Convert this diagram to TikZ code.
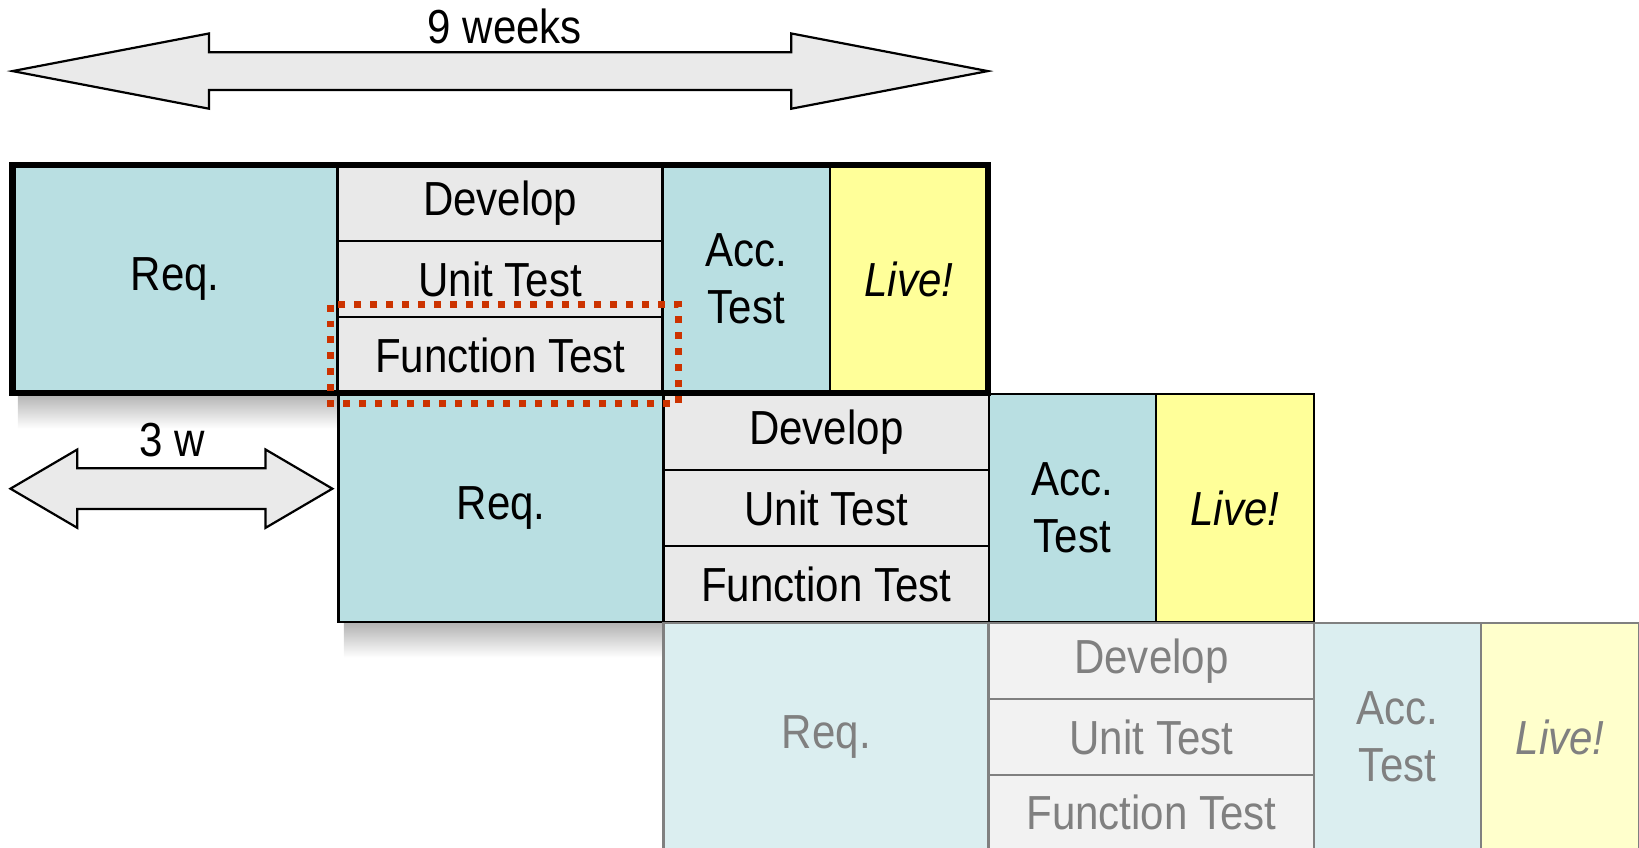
\documentclass[tikz,border=0pt]{standalone}
\usepackage{fontspec}
\setmainfont{Liberation Sans}[FakeStretch=0.88]
\usepackage{tikz}
\usetikzlibrary{positioning,calc}

\definecolor{reqfill}{HTML}{B9DFE2}
\definecolor{devfill}{HTML}{E9E9E9}
\definecolor{livefill}{HTML}{FFFF99}
\definecolor{reqfade}{HTML}{DBEEF0}
\definecolor{devfade}{HTML}{F2F2F2}
\definecolor{livefade}{HTML}{FFFFCC}
\definecolor{fadetext}{HTML}{808080}
\definecolor{markred}{HTML}{CC3300}
\definecolor{spanfill}{HTML}{EAEAEA}

\begin{document}
\begin{tikzpicture}[x=0.01cm,y=-0.01cm]
\tikzstyle{cell}=[inner sep=0pt,outer sep=0pt,line width=0.7pt,align=center,font=\fontsize{13pt}{15.6pt}\selectfont]
\tikzstyle{spanarrow}=[draw=black,line width=0.6pt,fill=spanfill,line join=miter]
\tikzstyle{spanlabel}=[font=\fontsize{13pt}{15.6pt}\selectfont,inner sep=0pt]
\tikzstyle{reddot}=[draw=markred,line width=1.9pt,dash pattern=on 1.9pt off 2.45pt]
\tikzstyle{shadow}=[top color=black!30,bottom color=white]

%% Macro for one sprint row
% #1=name, #2=x, #3=y, #4=req fill, #5=dev fill, #6=live fill, #7=text/line color
\newcommand{\Sprint}[7]{
    % Requirements
    \node[cell,fill=#4,draw=#7,text=#7,minimum width=3.11cm,minimum height=2.18cm] (#1-req) at (#2+155.5,#3+109) {Req.};
    % Develop / tests
    \node[cell,fill=#5,draw=#7,text=#7,minimum width=3.11cm,minimum height=0.7267cm] (#1-dev1) at (#2+466.5,#3+36.33) {Develop};
    \node[cell,fill=#5,draw=#7,text=#7,minimum width=3.11cm,minimum height=0.7267cm] (#1-dev2) at (#2+466.5,#3+109) {Unit Test};
    \node[cell,fill=#5,draw=#7,text=#7,minimum width=3.11cm,minimum height=0.7267cm] (#1-dev3) at (#2+466.5,#3+181.67) {Function Test};
    % Acceptance
    \node[cell,fill=#4,draw=#7,text=#7,minimum width=1.60cm,minimum height=2.18cm] (#1-acc) at (#2+702,#3+109) {Acc.\\Test};
    % Live
    \node[cell,fill=#6,draw=#7,text=#7,minimum width=1.51cm,minimum height=2.18cm] (#1-live) at (#2+857.5,#3+109) {\itshape Live!};
}

% #1=left tip, #2=right tip, #3=mid y, #4=shaft half, #5=head half, #6=head length
\newcommand{\Span}[6]{
    \draw[spanarrow] (#1,#3) -- (#1+#6,#3-#5) -- (#1+#6,#3-#4) -- (#2-#6,#3-#4) -- (#2-#6,#3-#5)
        -- (#2,#3) -- (#2-#6,#3+#5) -- (#2-#6,#3+#4) -- (#1+#6,#3+#4) -- (#1+#6,#3+#5) -- cycle;
}

\useasboundingbox (0,0) rectangle (1568,811);
\clip (0,0) rectangle (1568,811);

%% ========== SHADOWS ==========
\shade[shadow] (17,377) rectangle (324,410);
\shade[shadow] (329,596) rectangle (635,629);

%% ========== SPANS ==========
\Span{12}{945}{68}{18}{36}{188}
\node[spanlabel] (weeks9) at (483,25) {9 weeks};

\Span{10}{318}{467.5}{19.5}{37.5}{64}
\node[spanlabel] (weeks3) at (165,421) {3 w};

%% ========== SPRINTS ==========
\Sprint{s1}{12}{158}{reqfill}{devfill}{livefill}{black}
\Sprint{s2}{324}{377}{reqfill}{devfill}{livefill}{black}
\Sprint{s3}{635}{596}{reqfade}{devfade}{livefade}{fadetext}

% current sprint
\draw[line width=1.7pt] (s1-req.north west) rectangle (s1-live.south east);

% highlight
\draw[reddot] ($(s1-dev3.north west)+(-7,-12)$) rectangle ($(s1-dev3.south east)+(15,10)$);

\end{tikzpicture}
\end{document}
